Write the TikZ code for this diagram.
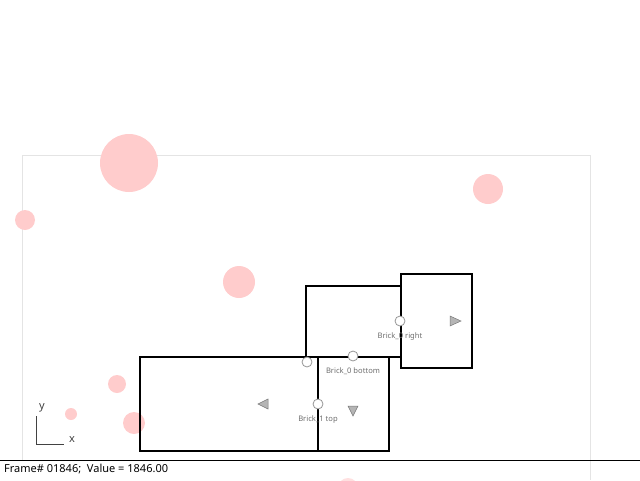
\documentclass[tikz,border=0pt]{standalone}
\usepackage{fontspec}
\setmainfont{Noto Sans}
\usetikzlibrary{positioning}
\definecolor{blobpink}{RGB}{255,204,204}
\definecolor{framegray}{RGB}{228,228,228}
\definecolor{markgray}{RGB}{150,150,150}
\definecolor{labelgray}{RGB}{110,110,110}

\begin{document}
\begin{tikzpicture}[x=1pt, y=-1pt,
  blob/.style={fill=blobpink, draw=none},
  brick/.style={draw=black, line width=1.6pt},
  anchorpt/.style={circle, draw=markgray, fill=white, line width=0.8pt, minimum size=10pt, inner sep=0pt},
  anchorlabel/.style={text=labelgray, font=\fontsize{7.6}{8}\selectfont, inner sep=0pt},
  arrowmark/.style={fill=markgray!70, draw=markgray!80!black, line width=0.5pt, line join=miter}]
  \useasboundingbox (0,0) rectangle (640,480);

  % simulation frame
  \draw[framegray, line width=0.8pt] (22,460) -- (22,155) -- (590,155) -- (590,480);

  % pink blobs
  \fill[blob] (129,163) circle (29);
  \fill[blob] (488,189) circle (15);
  \fill[blob] (25,220) circle (10);
  \fill[blob] (239,282) circle (16);
  \fill[blob] (117,384) circle (9);
  \fill[blob] (71,414) circle (6);
  \fill[blob] (134,423) circle (11);

  % bricks
  \draw[brick] (306,357) rectangle (401,286);
  \draw[brick] (401,274) rectangle (472,368);
  \draw[brick] (140,357) rectangle (389,451);
  \draw[brick] (318,357) -- (318,451);

  % anchor points
  \node[anchorpt] (b0right) at (400,321) {};
  \node[anchorlabel, below=6pt of b0right.south] {Brick\_0 right};
  \node[anchorpt] (b0bottom) at (353,356) {};
  \node[anchorlabel, below=6pt of b0bottom.south] {Brick\_0 bottom};
  \node[anchorpt] (b1left) at (307,362) {};
  \node[anchorpt] (b1top) at (318,404) {};
  \node[anchorlabel, below=6pt of b1top.south] {Brick\_1 top};

  % direction marks
  \draw[arrowmark] (450,316) -- (461,321) -- (450,326) -- cycle;
  \draw[arrowmark] (268,399) -- (258,404) -- (268,409) -- cycle;
  \draw[arrowmark] (348,406) -- (358,406) -- (353,416) -- cycle;

  % axes
  \coordinate (origin) at (36,444);
  \draw[labelgray!60!black, line width=0.7pt] (36,416) -- (origin) -- (64,444);
  \node[text=labelgray!60!black, font=\fontsize{11}{11}\selectfont, inner sep=0pt] (ylab) at (42,408) {y};
  \node[text=labelgray!60!black, font=\fontsize{11}{11}\selectfont, inner sep=0pt] (xlab) at (72,440) {x};

  % status bar
  \fill[white] (0,461) rectangle (589,480);
  \fill[blob, opacity=0.6] (348,488) circle (10);
  \draw[black, line width=1pt] (0,460.5) -- (640,460.5);
  \node[anchor=west, inner sep=0pt, font=\fontsize{11}{11}\selectfont] (status) at (4,469.5) {Frame\# 01846;\ \ Value = 1846.00};
\end{tikzpicture}
\end{document}
